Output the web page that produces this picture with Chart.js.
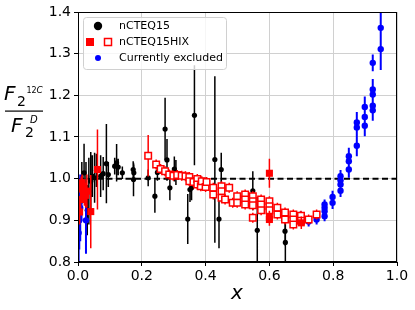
<!DOCTYPE html>
<html>
<head>
<meta charset="utf-8">
<script src="https://cdn.jsdelivr.net/npm/chart.js@4/dist/chart.umd.min.js"></script>
<style>
  html,body{margin:0;padding:0;background:#fff;}
  #c{display:block;}
</style>
</head>
<body>
<canvas id="c" width="415" height="310"></canvas>
<script>
// nCTEQ15 (black)
const nctX   = [0.012,0.019,0.025,0.029,0.034,0.040,0.045,0.052,0.058,0.071,0.079,0.089,0.095,0.115,0.121,0.126,0.139,0.173,0.175,0.174,0.220,0.241,0.249,0.273,0.279,0.288,0.302,0.307,0.344,0.351,0.356,0.365,0.429,0.442,0.449,0.548,0.562,0.649,0.650];
const nctY   = [0.990,1.014,0.980,0.924,0.970,0.994,1.006,1.002,1.020,1.006,1.012,1.036,1.010,1.030,1.038,1.028,1.014,1.022,1.014,0.998,1.002,0.958,1.015,1.119,1.045,0.978,1.023,1.015,0.903,0.974,0.978,1.152,1.046,0.903,1.022,0.971,0.876,0.874,0.847];
const nctErr = [0.05,0.07,0.06,0.06,0.08,0.07,0.05,0.06,0.04,0.05,0.04,0.095,0.03,0.02,0.045,0.02,0.015,0.02,0.02,0.04,0.02,0.04,0.02,0.075,0.05,0.03,0.03,0.03,0.06,0.03,0.03,0.12,0.2,0.07,0.04,0.047,0.08,0.035,0.06];

// nCTEQ15HIX filled squares
const hixX   = [0.005,0.008,0.010,0.013,0.016,0.020,0.024,0.028,0.040,0.061,0.600,0.600,0.600,0.700];
const hixY   = [0.920,0.950,0.975,0.990,0.980,0.965,0.960,0.970,0.921,1.022,1.013,0.908,0.902,0.894];
const hixErr = [0.03,0.03,0.03,0.02,0.02,0.03,0.03,0.04,0.088,0.096,0.035,0.015,0.015,0.015];

// nCTEQ15HIX open squares
const hioX   = [0.220,0.245,0.259,0.273,0.286,0.299,0.311,0.325,0.337,0.349,0.349,0.362,0.374,0.374,0.385,0.388,0.400,0.403,0.424,0.424,0.450,0.450,0.450,0.461,0.474,0.485,0.499,0.499,0.524,0.524,0.524,0.548,0.548,0.548,0.548,0.574,0.574,0.574,0.600,0.600,0.600,0.625,0.625,0.649,0.649,0.675,0.675,0.675,0.699,0.699,0.723,0.748];
const hioY   = [1.055,1.034,1.023,1.018,1.010,1.007,1.009,1.007,1.006,1.004,0.994,0.992,0.999,0.986,0.982,0.994,0.980,0.992,0.978,0.962,0.982,0.970,0.954,0.950,0.978,0.942,0.958,0.942,0.962,0.950,0.938,0.958,0.946,0.936,0.906,0.950,0.938,0.924,0.946,0.934,0.924,0.930,0.914,0.919,0.902,0.914,0.902,0.890,0.911,0.899,0.902,0.914];
const hioErr = [0.05,0.012,0.012,0.012,0.012,0.012,0.012,0.012,0.012,0.012,0.012,0.012,0.012,0.012,0.012,0.012,0.012,0.012,0.012,0.012,0.012,0.012,0.012,0.012,0.012,0.012,0.012,0.012,0.012,0.012,0.012,0.012,0.012,0.012,0.012,0.012,0.012,0.012,0.012,0.012,0.012,0.012,0.012,0.012,0.012,0.012,0.012,0.012,0.012,0.012,0.012,0.012];

// Currently excluded (blue)
const excX   = [0.002,0.004,0.007,0.011,0.025,0.698,0.698,0.723,0.748,0.773,0.773,0.773,0.773,0.798,0.798,0.823,0.823,0.823,0.823,0.849,0.849,0.849,0.874,0.874,0.874,0.899,0.899,0.899,0.924,0.924,0.924,0.924,0.924,0.949,0.949];
const excY   = [0.870,0.900,0.930,0.950,0.900,0.910,0.900,0.897,0.902,0.938,0.930,0.922,0.910,0.956,0.942,1.006,0.996,0.986,0.971,1.054,1.042,1.022,1.135,1.123,1.079,1.172,1.148,1.127,1.278,1.214,1.202,1.175,1.164,1.362,1.311];
const excErr = [0.08,0.07,0.08,0.05,0.08,0.012,0.012,0.012,0.012,0.012,0.012,0.012,0.012,0.015,0.015,0.015,0.015,0.015,0.015,0.02,0.02,0.02,0.025,0.025,0.025,0.025,0.025,0.025,0.02,0.025,0.025,0.025,0.025,0.05,0.05];

const xTicks = [0, 0.2, 0.4, 0.6, 0.8, 1.0];
const yTicks = [0.8, 0.9, 1.0, 1.1, 1.2, 1.3, 1.4];
const refLine = [1.0, 1.0];

const pts = (xs, ys) => xs.map((x,i)=>({x, y:ys[i]}));
const FONT = 'DejaVu Sans';

// vertical error bars, drawn right under each dataset's markers
const errorBars = {
  id:'errorBars',
  beforeDatasetDraw(chart, args){
    const ds = chart.data.datasets[args.index];
    if(!ds.errs) return;
    const {ctx, chartArea:a, scales:{x, y}} = chart;
    ctx.save();
    ctx.beginPath(); ctx.rect(a.left, a.top, a.right-a.left, a.bottom-a.top); ctx.clip();
    ctx.strokeStyle = ds.errColor; ctx.lineWidth = ds.errWidth;
    ctx.beginPath();
    ds.data.forEach((p,i)=>{
      const px = x.getPixelForValue(p.x);
      ctx.moveTo(px, y.getPixelForValue(p.y - ds.errs[i]));
      ctx.lineTo(px, y.getPixelForValue(p.y + ds.errs[i]));
    });
    ctx.stroke();
    ctx.restore();
  }
};

// frame, legend box and axis titles
const decor = {
  id:'decor',
  afterDatasetsDraw(chart){
    const {ctx, chartArea:a} = chart;
    ctx.save();
    ctx.strokeStyle = '#000'; ctx.lineWidth = 1;
    ctx.strokeRect(a.left+0.5, a.top+0.5, a.right-a.left-1, a.bottom-a.top-1);
    ctx.restore();
  },
  afterDraw(chart){
    const {ctx} = chart;
    ctx.save();
    // legend
    ctx.fillStyle = 'rgba(255,255,255,0.8)';
    ctx.strokeStyle = '#d0d0d0'; ctx.lineWidth = 1;
    ctx.beginPath(); ctx.roundRect(83.5, 17.5, 143, 52, 3); ctx.fill(); ctx.stroke();
    ctx.fillStyle = '#000';
    ctx.beginPath(); ctx.arc(98, 26, 4.2, 0, Math.PI*2); ctx.fill();
    ctx.fillStyle = '#f00'; ctx.fillRect(86, 38, 8, 8);
    ctx.strokeStyle = '#f00'; ctx.lineWidth = 1.5; ctx.strokeRect(104.5, 38.5, 7, 7);
    ctx.fillStyle = '#00f';
    ctx.beginPath(); ctx.arc(98, 58, 3, 0, Math.PI*2); ctx.fill();
    ctx.fillStyle = '#000'; ctx.font = `11px ${FONT}`; ctx.textBaseline = 'middle';
    ctx.fillText('nCTEQ15', 119, 26);
    ctx.fillText('nCTEQ15HIX', 119, 42);
    ctx.fillText('Currently excluded', 119, 58);

    // x label
    ctx.textBaseline = 'alphabetic'; ctx.textAlign = 'center';
    ctx.font = `italic 20px ${FONT}`;
    ctx.fillText('x', 237, 299);

    // y label: F2^12C / F2^D
    ctx.textAlign = 'left';
    ctx.font = `italic 20px ${FONT}`; ctx.fillText('F', 4, 100);
    ctx.font = `14px ${FONT}`; ctx.fillText('2', 17, 106);
    ctx.font = `8px ${FONT}`; ctx.fillText('12', 26.5, 93);
    ctx.font = `italic 9px ${FONT}`; ctx.fillText('C', 36.5, 93);
    ctx.fillRect(5, 110.5, 38, 1.2);
    ctx.font = `italic 20px ${FONT}`; ctx.fillText('F', 11, 132);
    ctx.font = `14px ${FONT}`; ctx.fillText('2', 25, 137);
    ctx.font = `italic 10px ${FONT}`; ctx.fillText('D', 30, 123);
    ctx.restore();
  }
};

new Chart(document.getElementById('c'), {
  type:'scatter',
  data:{datasets:[
    {label:'nCTEQ15HIX', data:pts(hixX,hixY), errs:hixErr, errColor:'#f00', errWidth:1.5,
     pointStyle:'rect', pointRadius:5, backgroundColor:'#f00', borderColor:'#f00', borderWidth:0, order:0},
    {label:'nCTEQ15HIX open', data:pts(hioX,hioY), errs:hioErr, errColor:'#f00', errWidth:1.5,
     pointStyle:'rect', pointRadius:4.6, backgroundColor:'#fff', borderColor:'#f00', borderWidth:1.5, order:1},
    {label:'Currently excluded', data:pts(excX,excY), errs:excErr, errColor:'#00f', errWidth:2,
     pointRadius:3.2, backgroundColor:'#00f', borderColor:'#00f', borderWidth:0, order:2},
    {label:'nCTEQ15', data:pts(nctX,nctY), errs:nctErr, errColor:'#000', errWidth:1.5,
     pointRadius:2.6, backgroundColor:'#000', borderColor:'#000', borderWidth:0, order:3},
    {label:'ref', type:'line', data:pts([0,1],refLine), borderColor:'#000', borderWidth:2,
     borderDash:[6,3.5], pointRadius:0, fill:false, order:4}
  ]},
  options:{
    responsive:false, animation:false,
    layout:{padding:{left:0, top:12, right:18, bottom:0}},
    plugins:{legend:{display:false}, tooltip:{enabled:false}},
    scales:{
      x:{type:'linear', min:0, max:1,
         afterFit(s){ s.height = 48; },
         afterBuildTicks(s){ s.ticks = xTicks.map(v=>({value:v})); },
         ticks:{callback:v=>v.toFixed(1), color:'#000', font:{family:FONT, size:14}, padding:2, maxRotation:0},
         grid:{color:'#d0d0d0', lineWidth:1, tickColor:'#000', tickLength:4},
         border:{color:'#000', width:1}},
      y:{type:'linear', min:0.8, max:1.4,
         afterFit(s){ s.width = 78; },
         afterBuildTicks(s){ s.ticks = yTicks.map(v=>({value:v})); },
         ticks:{callback:v=>v.toFixed(1), color:'#000', font:{family:FONT, size:14}, padding:3},
         grid:{color:'#d0d0d0', lineWidth:1, tickColor:'#000', tickLength:4},
         border:{color:'#000', width:1}}
    }
  },
  plugins:[errorBars, decor]
});
</script>
</body>
</html>
